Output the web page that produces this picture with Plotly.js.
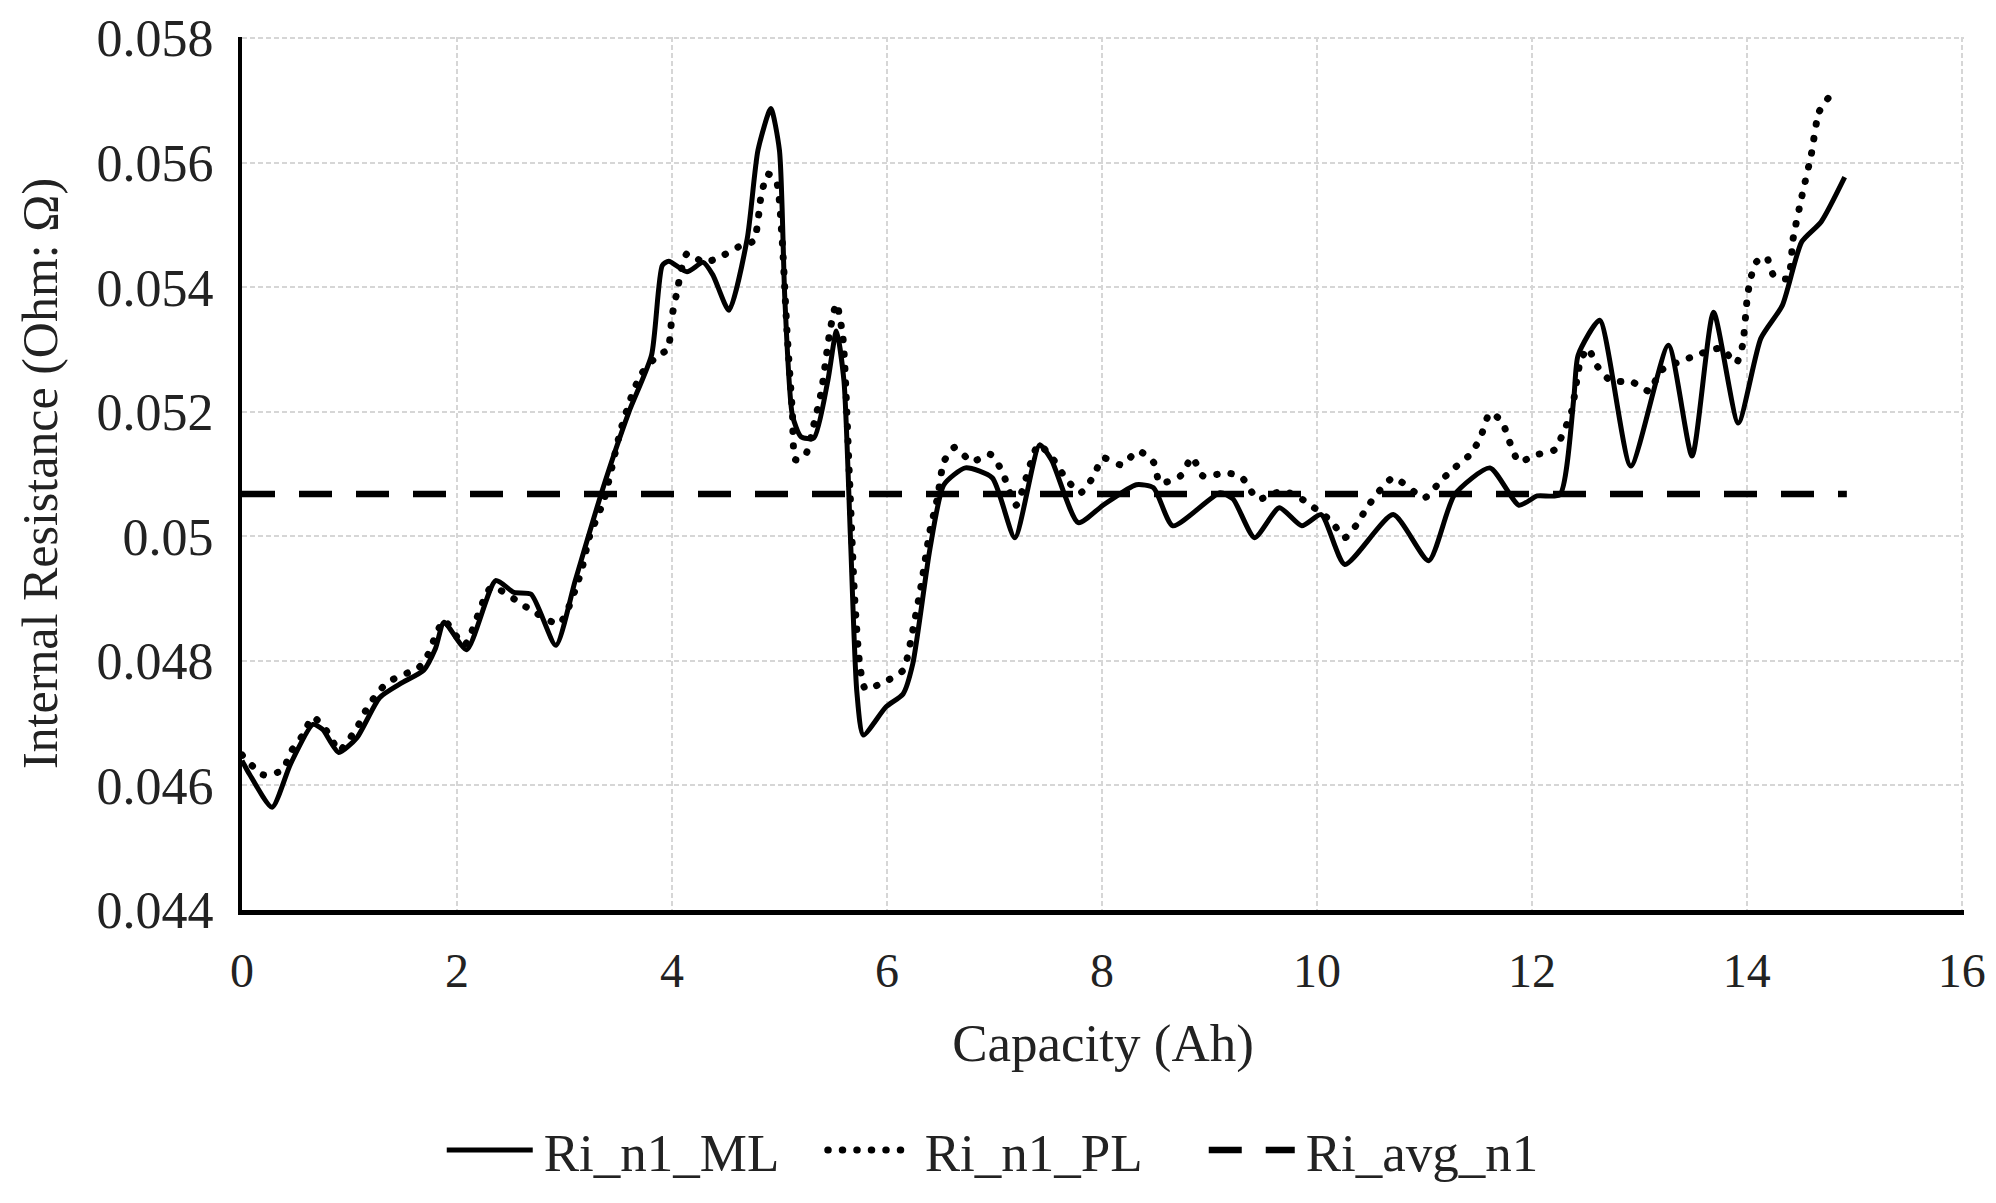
<!DOCTYPE html>
<html>
<head>
<meta charset="utf-8">
<script src="https://cdn.plot.ly/plotly-3.0.1.min.js"></script>
<style>
html,body{margin:0;padding:0;background:#fff;}
.scatterlayer .trace:nth-child(2) .js-line{stroke-linecap:round;}
.legend .traces:nth-child(2) .js-line{stroke-linecap:round;}
</style>
</head>
<body>
<div id="chart" style="width:1996px;height:1203px;"></div>
<script>
// Ri_n1_ML (solid)
const mlCapacity = [0.0,0.07,0.28,0.45,0.66,0.75,0.9,1.07,1.28,1.49,1.69,1.8,1.88,2.09,2.36,2.53,2.69,2.92,3.1,3.35,3.6,3.81,3.91,3.97,4.14,4.29,4.38,4.53,4.7,4.8,4.92,5.0,5.05,5.12,5.2,5.32,5.45,5.53,5.6,5.66,5.72,5.78,5.99,6.15,6.24,6.4,6.53,6.73,6.98,7.19,7.42,7.53,7.78,8.01,8.32,8.48,8.66,9.1,9.22,9.42,9.65,9.86,10.04,10.26,10.71,11.04,11.28,11.61,11.88,12.05,12.26,12.39,12.43,12.63,12.92,13.27,13.49,13.69,13.92,14.13,14.33,14.51,14.69,14.91];
const mlResistance = [0.0464,0.04618,0.04565,0.04634,0.04698,0.0469,0.04653,0.04677,0.04741,0.04765,0.04785,0.0482,0.04862,0.04818,0.04929,0.0491,0.04907,0.04825,0.04929,0.05073,0.052,0.05291,0.05435,0.05442,0.05425,0.0544,0.0542,0.05363,0.05478,0.0562,0.05687,0.0562,0.05382,0.05195,0.0516,0.05158,0.0525,0.0533,0.0525,0.05,0.0475,0.04681,0.04726,0.04747,0.04795,0.0498,0.05083,0.0511,0.05094,0.04998,0.05147,0.05123,0.05022,0.0505,0.05083,0.05078,0.05017,0.0507,0.0506,0.04998,0.05046,0.05017,0.05035,0.04955,0.05035,0.04961,0.05067,0.0511,0.0505,0.05065,0.05067,0.05222,0.05291,0.05347,0.05113,0.05307,0.05129,0.0536,0.05182,0.05318,0.05371,0.05473,0.05505,0.05577];

// Ri_n1_PL (dotted)
const plCapacity = [0.0,0.2,0.38,0.45,0.57,0.66,0.82,0.9,1.07,1.15,1.28,1.4,1.65,1.73,1.8,1.88,2.07,2.32,2.65,2.95,3.15,3.23,3.37,3.52,3.64,3.72,3.87,3.96,4.0,4.04,4.14,4.3,4.45,4.62,4.76,4.83,4.89,4.97,5.02,5.07,5.12,5.15,5.24,5.32,5.39,5.47,5.53,5.59,5.65,5.7,5.75,5.8,5.97,6.15,6.24,6.32,6.4,6.47,6.53,6.63,6.79,6.96,7.07,7.2,7.41,7.55,7.66,7.8,7.92,8.01,8.18,8.34,8.48,8.54,8.73,8.84,8.94,9.16,9.3,9.45,9.68,9.84,10.13,10.26,10.37,10.48,10.71,11.0,11.15,11.28,11.44,11.53,11.61,11.72,11.79,11.88,12.04,12.21,12.3,12.37,12.45,12.52,12.61,12.74,12.92,13.1,13.19,13.5,13.76,13.9,13.96,14.0,14.03,14.09,14.18,14.25,14.38,14.43,14.51,14.6,14.67,14.77];
const plResistance = [0.04649,0.04617,0.04625,0.04653,0.04682,0.0471,0.0468,0.04655,0.04693,0.0472,0.04753,0.0477,0.0479,0.0481,0.0484,0.04865,0.04826,0.04918,0.04886,0.0486,0.0494,0.04998,0.0506,0.05169,0.05233,0.05262,0.05291,0.053,0.05353,0.05387,0.05454,0.0544,0.05449,0.05465,0.05475,0.05547,0.05582,0.05571,0.0549,0.0533,0.052,0.05123,0.0513,0.0518,0.05233,0.0533,0.05374,0.0532,0.051,0.049,0.0479,0.04755,0.04766,0.04785,0.04849,0.04923,0.05009,0.05062,0.0512,0.05143,0.0512,0.05132,0.05105,0.0505,0.05147,0.05123,0.05094,0.0507,0.05096,0.05126,0.05115,0.05137,0.05119,0.05086,0.05097,0.05127,0.05097,0.05102,0.05095,0.0506,0.05073,0.05062,0.05025,0.04998,0.05019,0.0505,0.05094,0.05062,0.05089,0.0511,0.05134,0.05163,0.05198,0.05185,0.05153,0.0512,0.05131,0.05139,0.0517,0.05201,0.0528,0.05302,0.05273,0.05249,0.05249,0.05233,0.05265,0.05289,0.05302,0.05278,0.05307,0.05377,0.05411,0.05441,0.05449,0.05419,0.05414,0.05478,0.05545,0.05614,0.05681,0.05707];

// Ri_avg_n1 (dashed)
const avgCapacity = [0.0, 14.93];
const avgResistance = [0.05068, 0.05068];

const seriesNames = ["Ri_n1_ML", "Ri_n1_PL", "Ri_avg_n1"];
const xTickVals = [0, 2, 4, 6, 8, 10, 12, 14, 16];
const yTickVals = [0.044, 0.046, 0.048, 0.05, 0.052, 0.054, 0.056, 0.058];
const yTickText = ["0.044", "0.046", "0.048", "0.05", "0.052", "0.054", "0.056", "0.058"];
const xTitle = "Capacity (Ah)";
const yTitle = "Internal Resistance (Ohm: Ω)";

const serif = "Liberation Serif, Times New Roman, serif";
const ink = "#222222";

const traces = [
  {x: mlCapacity, y: mlResistance, name: seriesNames[0], type: "scatter", mode: "lines",
   line: {color: "#000", width: 5, shape: "spline", smoothing: 0.6}},
  {x: plCapacity, y: plResistance, name: seriesNames[1], type: "scatter", mode: "lines",
   line: {color: "#000", width: 7, dash: "0.5px,14px", shape: "spline", smoothing: 0.6}},
  {x: avgCapacity, y: avgResistance, name: seriesNames[2], type: "scatter", mode: "lines",
   line: {color: "#000", width: 6.5, dash: "33px,24px"}}
];

const layout = {
  width: 1996, height: 1203,
  margin: {l: 242, r: 32, t: 37, b: 290, pad: 0},
  paper_bgcolor: "#fff", plot_bgcolor: "#fff",
  font: {family: serif, color: ink, size: 48},
  showlegend: true,
  legend: {orientation: "h", x: 0.116, xanchor: "left", y: -0.275, yanchor: "middle",
           font: {family: serif, size: 53, color: ink}, itemwidth: 92,
           entrywidth: 274, entrywidthmode: "pixels", tracegroupgap: 0},
  xaxis: {
    range: [0, 16.02], tickvals: xTickVals, ticks: "", ticklabelstandoff: 14,
    tickfont: {family: serif, size: 48, color: ink},
    showgrid: true, gridcolor: "#d6d6d6", gridwidth: 2, griddash: "5px,3px",
    showline: true, linecolor: "#000", linewidth: 5, zeroline: false,
    title: {text: xTitle, font: {family: serif, size: 53, color: ink}, standoff: 30}
  },
  yaxis: {
    range: [0.044, 0.05802], tickvals: yTickVals, ticktext: yTickText, ticks: "", ticklabelstandoff: 14,
    tickfont: {family: serif, size: 52, color: ink},
    showgrid: true, gridcolor: "#d6d6d6", gridwidth: 2, griddash: "5px,3px",
    showline: true, linecolor: "#000", linewidth: 4, zeroline: false,
    title: {text: yTitle, font: {family: serif, size: 50, color: ink}, standoff: 24}
  }
};

Plotly.newPlot("chart", traces, layout, {displayModeBar: false, staticPlot: true}).then(function () {
  document.querySelectorAll(".legend .legendlines path").forEach(function (p) {
    p.setAttribute("d", "M5,0h86");
  });
});
</script>
</body>
</html>
